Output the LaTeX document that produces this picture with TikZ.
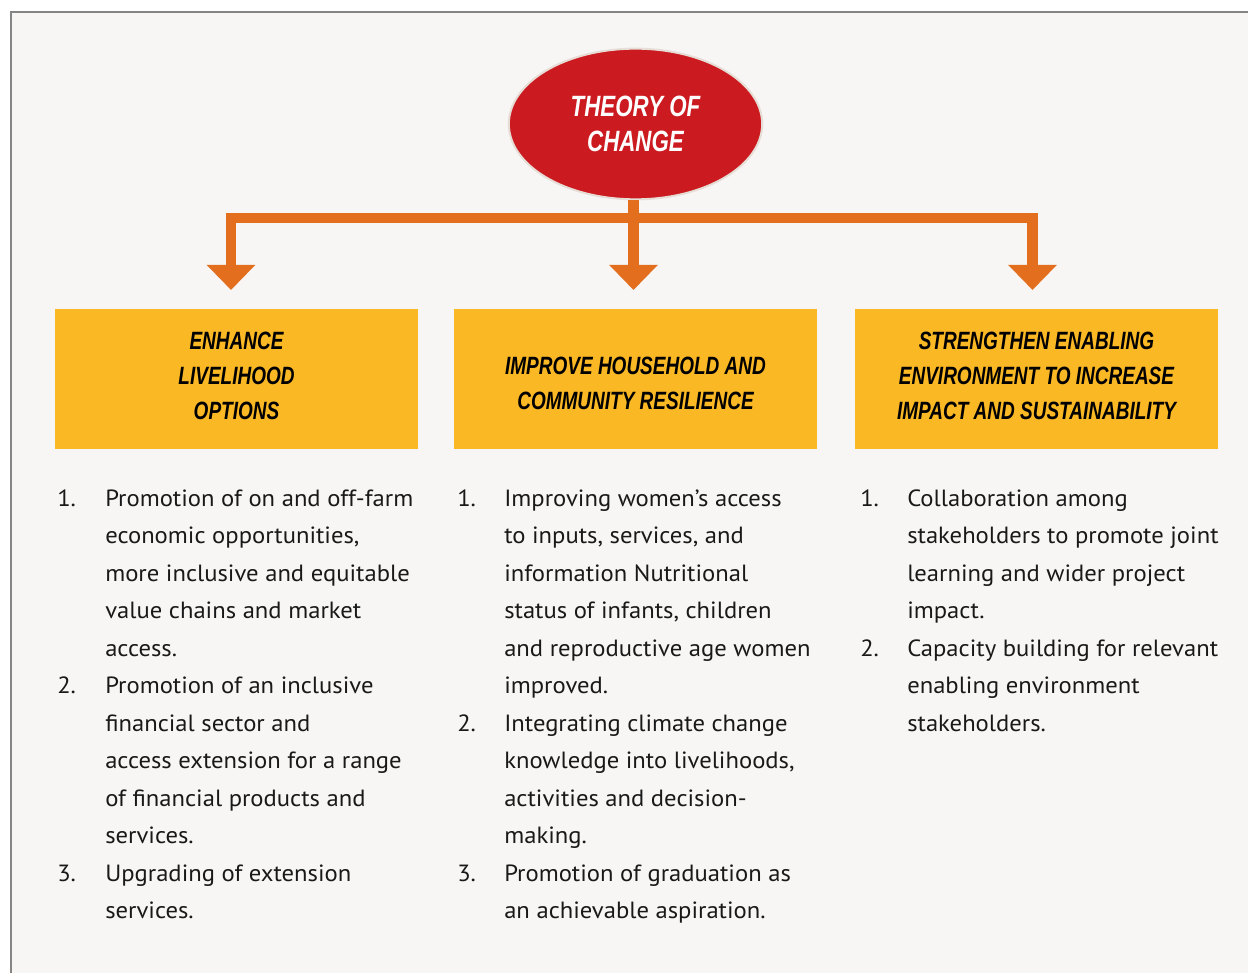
\documentclass[tikz,border=0pt]{standalone}
\usepackage{fontspec}
\usetikzlibrary{shapes.geometric,arrows.meta}
\newfontfamily\headf[FakeStretch=0.76]{Liberation Sans}
\newfontfamily\bodyf[FakeStretch=1.05]{PT Sans}
\definecolor{bgc}{HTML}{F7F6F4}
\definecolor{framec}{HTML}{858585}
\definecolor{redc}{HTML}{CC1A21}
\definecolor{rimc}{HTML}{E6DED6}
\definecolor{orangec}{HTML}{E36F1E}
\definecolor{yellowc}{HTML}{FBB825}
\newcommand\lastdeep[1]{\raisebox{0pt}[\height][\dimexpr\depth+4.5pt\relax]{#1}}
\newcommand\firsttall[1]{\raisebox{0pt}[\dimexpr\height+6pt\relax]{#1}}
\begin{document}
\begin{tikzpicture}[x=0.75pt,y=-0.75pt,
  headbox/.style={rectangle, fill=yellowc, minimum width=272.25pt, minimum height=105pt, inner sep=0pt, align=center,
     font=\headf\bfseries\itshape\fontsize{18.75}{26.25}\selectfont, text=black},
  toc/.style={ellipse, fill=redc, draw=rimc, line width=1.5pt, minimum width=190pt, minimum height=113pt, inner sep=0pt,
     align=center, text=white, font=\headf\bfseries\itshape\fontsize{22}{26.25}\selectfont},
  stem/.style={draw=orangec, line width=7.9pt, line join=miter},
  tip/.style={-{Triangle[width=35.25pt,length=18.75pt]}},
  num/.style={anchor=base west, inner sep=0pt, font=\bodyf\fontsize{17.6}{28.125}\selectfont, text=black!90},
  body/.style={anchor=base west, inner sep=0pt, font=\bodyf\fontsize{17.6}{28.125}\selectfont, text=black!90}]
\useasboundingbox (0,0) rectangle (1248,973);
\fill[white] (0,0) rectangle (1248,973);
\filldraw[fill=bgc, draw=framec, line width=1.5pt] (11,12) rectangle (1270,1000);

\node[toc] (toc) at (635.5,124) {THEORY OF\\CHANGE};

\node[headbox] (b1) at (236.5,379) {ENHANCE\\LIVELIHOOD\\\lastdeep{OPTIONS}};
\node[headbox] (b2) at (635.5,379) {\firsttall{IMPROVE HOUSEHOLD AND}\\COMMUNITY RESILIENCE};
\node[headbox] (b3) at (1036.5,379) {STRENGTHEN ENABLING\\ENVIRONMENT TO INCREASE\\\lastdeep{IMPACT AND SUSTAINABILITY}};

\coordinate (j) at (633.5,218);
\coordinate (e1) at (231,290);
\coordinate (e2) at (633.5,290);
\coordinate (e3) at (1032.5,290);
\draw[stem, tip] (j) -| (e1);
\draw[stem, tip] (j) -| (e3);
\draw[stem, tip] (toc.south -| j) -- (e2);

% left column
\node[num] (l1n) at (57,506) {1.};
\node[body] (l1t) at (105,506) {\parbox[t]{260pt}{Promotion of on and off-farm\\economic opportunities,\\more inclusive and equitable\\value chains and market\\access.}};
\node[num] (l2n) at (57,693.5) {2.};
\node[body] (l2t) at (105,693.5) {\parbox[t]{260pt}{Promotion of an inclusive\\financial sector and\\access extension for a range\\of financial products and\\services.}};
\node[num] (l3n) at (57,881) {3.};
\node[body] (l3t) at (105,881) {\parbox[t]{260pt}{Upgrading of extension\\services.}};

% middle column
\node[num] (m1n) at (457,506) {1.};
\node[body] (m1t) at (504,506) {\parbox[t]{260pt}{Improving women’s access\\to inputs, services, and\\information Nutritional\\status of infants, children\\and reproductive age women\\improved.}};
\node[num] (m2n) at (457,731) {2.};
\node[body] (m2t) at (504,731) {\parbox[t]{260pt}{Integrating climate change\\knowledge into livelihoods,\\activities and decision-\\making.}};
\node[num] (m3n) at (457,881) {3.};
\node[body] (m3t) at (504,881) {\parbox[t]{260pt}{Promotion of graduation as\\an achievable aspiration.}};

% right column
\node[num] (r1n) at (860,506) {1.};
\node[body] (r1t) at (907,506) {\parbox[t]{250pt}{Collaboration among\\stakeholders to promote joint\\learning and wider project\\impact.}};
\node[num] (r2n) at (860,656) {2.};
\node[body] (r2t) at (907,656) {\parbox[t]{250pt}{Capacity building for relevant\\enabling environment\\stakeholders.}};
\end{tikzpicture}
\end{document}
